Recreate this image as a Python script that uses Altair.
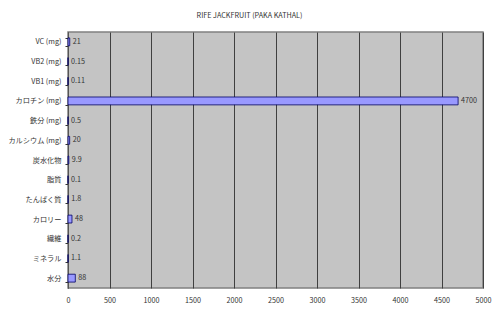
import altair as alt
import pandas as pd

categories = ["VC (mg)", "VB2 (mg)", "VB1 (mg)", "カロチン (mg)", "鉄分 (mg)", "カルシウム (mg)",
              "炭水化物", "脂質", "たんぱく質", "カロリー", "繊維", "ミネラル", "水分"]
values = [21, 0.15, 0.11, 4700, 0.5, 20, 9.9, 0.1, 1.8, 48, 0.2, 1.1, 88]
labels = ["21", "0.15", "0.11", "4700", "0.5", "20", "9.9", "0.1", "1.8", "48", "0.2", "1.1", "88"]
x_ticks = list(range(0, 5001, 500))

df = pd.DataFrame({"cat": categories, "val": values, "lab": labels})
FONT = "Noto Sans CJK JP"

y_enc = alt.Y("cat:N", sort=categories, title=None,
              scale=alt.Scale(paddingInner=0.6, paddingOuter=0.3),
              axis=alt.Axis(labelFont=FONT, labelFontSize=7.2, labelColor="#333333",
                            labelPadding=4, tickBand="extent", tickSize=3, tickColor="#333333",
                            domainColor="#555555", grid=False))
x_enc = alt.X("val:Q", title=None, scale=alt.Scale(domain=[0, 5000], nice=False),
              axis=alt.Axis(values=x_ticks, format="d", labelFont=FONT, labelFontSize=7.2,
                            labelColor="#333333", ticks=False, domain=False, grid=True,
                            gridColor="#404040", gridWidth=1, labelPadding=8, labelFlush=False))

bars = alt.Chart(df).mark_bar(color="#9999FF", stroke="#000066", strokeWidth=0.8).encode(
    x=x_enc, y=y_enc)
text = alt.Chart(df).mark_text(align="left", baseline="middle", dx=3, font=FONT,
                               fontSize=7.2, color="#333333").encode(
    x=alt.X("val:Q"), y=alt.Y("cat:N", sort=categories), text="lab:N")

chart = alt.layer(bars, text).properties(
    width=415, height=256,
    title=alt.TitleParams("RIFE JACKFRUIT (PAKA KATHAL)", font=FONT, fontSize=7.2,
                          fontWeight="normal", color="#333333", anchor="middle", dx=-26, offset=9),
    autosize=alt.AutoSizeParams(type="none"),
    padding={"left": 68, "top": 32, "right": 17, "bottom": 24},
).configure(background="white").configure_view(fill="#C4C4C4", stroke="#808080", strokeWidth=1.5)

chart.save("out.html", embed_options={"renderer": "svg", "actions": False})
